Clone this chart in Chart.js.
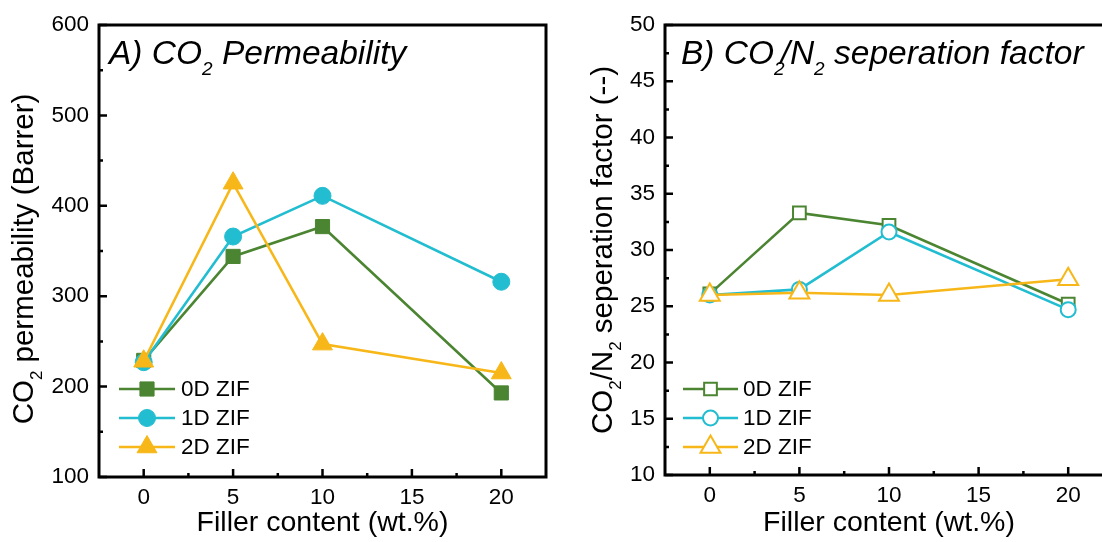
<!DOCTYPE html>
<html>
<head>
<meta charset="utf-8">
<script src="https://cdn.jsdelivr.net/npm/chart.js@4.4.1/dist/chart.umd.min.js"></script>
<style>
  html, body { margin: 0; padding: 0; background: #fff; overflow: hidden; width: 1102px; height: 542px; }
  #c1 { position: absolute; left: 0; top: 0; }
  #c2 { position: absolute; left: 560px; top: 0; }
</style>
</head>
<body>
<canvas id="c1" width="560" height="542"></canvas>
<canvas id="c2" width="600" height="542"></canvas>
<script>
// filler content (wt.%)
const fillerContent = [0, 5, 10, 20];

// A) CO2 permeability (Barrer)
const perm0D = [229, 344, 377, 193];
const perm1D = [227, 366, 411, 316];
const perm2D = [228, 425, 247, 215];

// B) CO2/N2 separation factor
const sep0D = [26.1, 33.3, 32.2, 25.2];
const sep1D = [26.0, 26.5, 31.6, 24.7];
const sep2D = [26.0, 26.2, 26.0, 27.4];

const seriesNames = ['0D ZIF', '1D ZIF', '2D ZIF'];

// ticks
const xTicks = [0, 5, 10, 15, 20];
const xMinor = [2.5, 7.5, 12.5, 17.5];
const permTicks = [100, 200, 300, 400, 500, 600];
const permMinor = [150, 250, 350, 450, 550];
const sepTicks = [10, 15, 20, 25, 30, 35, 40, 45, 50];
const sepMinor = [12.5, 17.5, 22.5, 27.5, 32.5, 37.5, 42.5, 47.5];

const GREEN = '#4b8532';
const CYAN = '#22bdd0';
const ORANGE = '#f7b718';
const FONT = "'Liberation Sans', Arial, sans-serif";

Chart.defaults.font.family = FONT;
Chart.defaults.color = '#000';

function pts(vals) {
  return fillerContent.map((x, i) => ({ x: x, y: vals[i] }));
}

// text with subscripts: parts = [[text, isSub, dx]]
function richText(ctx, parts, x, y, size, opts) {
  const it = opts.italic ? 'italic ' : '';
  const subSize = Math.round(size * 0.58);
  const drop = size * 0.32;
  const fontFor = sub => it + (sub ? subSize : size) + 'px ' + FONT;
  let total = 0;
  parts.forEach(p => { ctx.font = fontFor(p[1]); total += ctx.measureText(p[0]).width + (p[2] || 0); });
  ctx.save();
  ctx.translate(x, y);
  if (opts.rotate) ctx.rotate(opts.rotate);
  ctx.fillStyle = '#000';
  ctx.textBaseline = 'alphabetic';
  ctx.textAlign = 'left';
  let cx = opts.center ? -total / 2 : 0;
  parts.forEach(p => {
    ctx.font = fontFor(p[1]);
    cx += p[2] || 0;
    ctx.fillText(p[0], cx, p[1] ? drop : 0);
    cx += ctx.measureText(p[0]).width;
  });
  ctx.restore();
}

function decorPlugin(cfg) {
  return {
    id: 'decor',
    afterDraw(chart) {
      const { ctx, chartArea: a, scales: { x, y } } = chart;
      ctx.save();
      ctx.strokeStyle = '#000';
      ctx.lineWidth = 2.5;
      ctx.beginPath();
      xTicks.forEach(v => { const p = x.getPixelForValue(v); ctx.moveTo(p, a.bottom); ctx.lineTo(p, a.bottom - 8); });
      xMinor.forEach(v => { const p = x.getPixelForValue(v); ctx.moveTo(p, a.bottom); ctx.lineTo(p, a.bottom - 4); });
      cfg.yTicks.forEach(v => { const p = y.getPixelForValue(v); ctx.moveTo(a.left, p); ctx.lineTo(a.left + 8, p); });
      cfg.yMinor.forEach(v => { const p = y.getPixelForValue(v); ctx.moveTo(a.left, p); ctx.lineTo(a.left + 4, p); });
      ctx.stroke();
      ctx.lineWidth = 3;
      ctx.strokeRect(a.left, a.top, a.right - a.left, a.bottom - a.top);

      // legend: line with marker in the middle
      chart.data.datasets.forEach((ds, i) => {
        const ly = cfg.legend.y + i * 29;
        ctx.strokeStyle = ds.borderColor;
        ctx.lineWidth = ds.borderWidth;
        ctx.beginPath();
        ctx.moveTo(cfg.legend.x1, ly);
        ctx.lineTo(cfg.legend.x2, ly);
        ctx.stroke();
        ctx.fillStyle = ds.pointBackgroundColor;
        ctx.strokeStyle = ds.pointBorderColor;
        ctx.lineWidth = ds.pointBorderWidth;
        Chart.helpers.drawPoint(ctx, {
          pointStyle: ds.pointStyle, radius: ds.pointRadius,
          borderWidth: ds.pointBorderWidth, rotation: 0
        }, (cfg.legend.x1 + cfg.legend.x2) / 2, ly);
        ctx.fillStyle = '#000';
        ctx.font = '22.5px ' + FONT;
        ctx.textBaseline = 'middle';
        ctx.textAlign = 'left';
        ctx.fillText(seriesNames[i], cfg.legend.tx, ly + 1);
      });
      ctx.restore();

      richText(ctx, cfg.title, cfg.titleX, 64, 33.5, { italic: true });
      richText(ctx, cfg.yTitle, cfg.yTitleX, (a.top + a.bottom) / 2 + cfg.yTitleDy, 29.5, { center: true, rotate: -Math.PI / 2 });
    }
  };
}

function makeChart(id, cfg) {
  const filled = cfg.filled;
  const ds = (label, vals, color, style, r, order) => ({
    label: label,
    data: pts(vals),
    borderColor: color,
    borderWidth: 2.6,
    pointStyle: style,
    pointRadius: r,
    pointHoverRadius: r,
    pointBackgroundColor: filled ? color : '#fff',
    pointBorderColor: color,
    pointBorderWidth: filled ? 1 : 2,
    order: order,
    tension: 0
  });
  return new Chart(document.getElementById(id), {
    type: 'line',
    data: {
      datasets: [
        ds(seriesNames[0], cfg.data[0], GREEN, 'rect', filled ? 10 : 9, 3),
        ds(seriesNames[1], cfg.data[1], CYAN, 'circle', filled ? 8.5 : 7.5, 2),
        ds(seriesNames[2], cfg.data[2], ORANGE, 'triangle', 11.5, 1)
      ]
    },
    options: {
      responsive: false,
      animation: false,
      layout: { padding: { top: 25, right: cfg.padRight, left: 0, bottom: 0 } },
      plugins: { legend: { display: false }, tooltip: { enabled: false } },
      scales: {
        x: {
          type: 'linear', min: -2.5, max: 22.5,
          afterBuildTicks: s => { s.ticks = xTicks.map(v => ({ value: v })); },
          afterFit: s => { s.height = cfg.xHeight; },
          grid: { display: false, drawTicks: false },
          border: { display: false },
          ticks: { font: { size: 22.5 }, color: '#000', padding: 7, maxRotation: 0, autoSkip: false },
          title: { display: true, text: 'Filler content (wt.%)', font: { size: 28.5 }, color: '#000', padding: { top: 0, bottom: 2 } }
        },
        y: {
          type: 'linear', min: cfg.yMin, max: cfg.yMax,
          afterBuildTicks: s => { s.ticks = cfg.yTicks.map(v => ({ value: v })); },
          afterFit: s => { s.width = cfg.yWidth; },
          grid: { display: false, drawTicks: false },
          border: { display: false },
          ticks: { font: { size: 22.5 }, color: '#000', padding: 10, autoSkip: false }
        }
      }
    },
    plugins: [decorPlugin(cfg)]
  });
}

makeChart('c1', {
  filled: true,
  data: [perm0D, perm1D, perm2D],
  yMin: 100, yMax: 600, yTicks: permTicks, yMinor: permMinor,
  yWidth: 99, xHeight: 65, padRight: 14,
  title: [['A) CO', 0], ['2', 1], [' Permeability', 0]], titleX: 109,
  yTitle: [['CO', 0], ['2', 1], [' permeability (Barrer)', 0]], yTitleX: 33, yTitleDy: 8,
  legend: { x1: 119, x2: 175, tx: 181, y: 389 }
});

makeChart('c2', {
  filled: false,
  data: [sep0D, sep1D, sep2D],
  yMin: 10, yMax: 50, yTicks: sepTicks, yMinor: sepMinor,
  yWidth: 105, xHeight: 67, padRight: 47,
  title: [['B) CO', 0], ['2', 1], ['/N', 0, -4], ['2', 1], [' seperation factor', 0]], titleX: 121,
  yTitle: [['CO', 0], ['2', 1], ['/N', 0], ['2', 1], [' seperation factor (--)', 0]], yTitleX: 52, yTitleDy: 0,
  legend: { x1: 123, x2: 178, tx: 183, y: 389 }
});
</script>
</body>
</html>
